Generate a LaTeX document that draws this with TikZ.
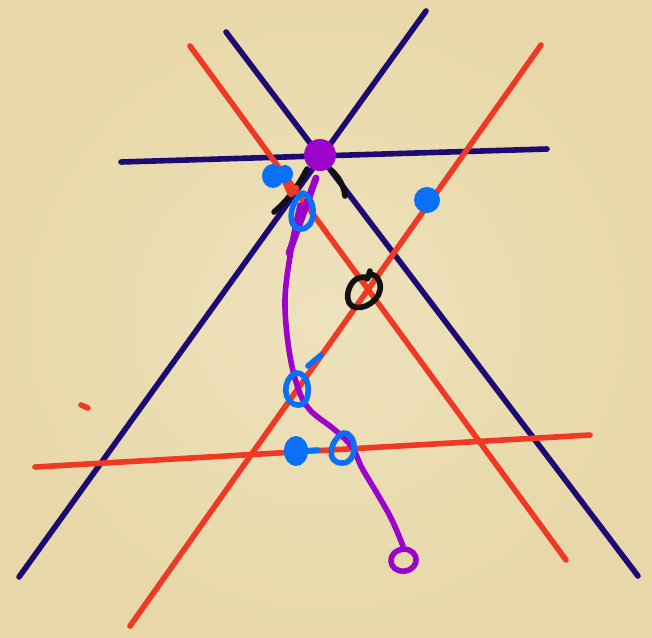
\documentclass[tikz,border=0pt]{standalone}
\usetikzlibrary{calc}
\definecolor{skPaper}{HTML}{E8D8A9}
\definecolor{skPaperHi}{HTML}{EEE2BD}
\definecolor{skNavy}{HTML}{1B0B72}
\definecolor{skRed}{HTML}{EE3A25}
\definecolor{skPurple}{HTML}{9C05C9}
\definecolor{skBlue}{HTML}{0A70F6}
\definecolor{skInk}{HTML}{111111}
\tikzset{
  pen/.style={line width=4.2pt, line cap=round, line join=round},
  navyline/.style={pen, draw=skNavy},
  redline/.style={pen, draw=skRed},
  purpleline/.style={pen, draw=skPurple},
  blueline/.style={pen, draw=skBlue},
  inkline/.style={pen, draw=skInk},
}
\begin{document}
\begin{tikzpicture}[x=0.75pt, y=-0.75pt]
  % paper
  \useasboundingbox (0,0) rectangle (652,637);
  \shade[inner color=skPaperHi, outer color=skPaper] (0,0) rectangle (652,637);

  % navy lines
  \draw[navyline] (121,162) -- (547,149);
  \draw[navyline] (426,11) -- (19,577);
  \draw[navyline] (226,32) -- (638,576);

  % red lines
  \draw[redline] (190,46) -- (566,560);
  \draw[redline] (541,45) -- (130,626);
  \draw[redline] (35,467) -- (590,435);
  \draw[redline] (81,405) -- (88,408);

  % black marks
  \draw[inkline] (307,169) .. controls (298,186) and (290,198) .. (274,212);
  \draw[inkline] (331,170) .. controls (340,178) and (344,187) .. (345,196);
  \draw[inkline] (368,278) .. controls (350,272) and (342,300) .. (352,306)
    .. controls (362,312) and (383,300) .. (380,284)
    .. controls (378,276) and (372,272) .. (369,276);
  \draw[inkline] (367,279) -- (370,271);
  \draw[redline, line width=5pt] (285,181) -- (291,194) -- (296,188);

  % purple path
  \fill[skPurple] (320,155) ellipse (16 and 16);
  \draw[purpleline, line width=5.2pt] (316,178) -- (289,253);
  \draw[purpleline] plot[smooth, tension=0.6] coordinates {
    (300,205) (291,250) (285,300) (289,350) (298,388) (310,410)
    (335,430) (352,447) (362,468) (378,495) (392,520) (403,546)};
  \draw[purpleline] (404,549) .. controls (385,551) and (388,573) .. (405,571)
    .. controls (420,569) and (420,550) .. (404,549);

  % blue marks
  \fill[skBlue] (273,176) ellipse (11 and 12);
  \fill[skBlue] (285,174) ellipse (8 and 9);
  \fill[skBlue] (427,200) ellipse (13 and 13);
  \fill[skBlue] (296,451) ellipse (12 and 15);
  \draw[blueline] (300,451) -- (318,450);
  \draw[blueline] (303,193) .. controls (290,200) and (286,228) .. (300,229)
    .. controls (316,230) and (318,200) .. (303,193);
  \draw[blueline] (296,373) .. controls (282,378) and (282,404) .. (298,405)
    .. controls (312,406) and (312,372) .. (296,373);
  \draw[blueline] (308,366) -- (321,355);
  \draw[blueline] (343,433) .. controls (330,440) and (325,463) .. (342,463)
    .. controls (358,464) and (358,432) .. (343,433);
\end{tikzpicture}
\end{document}
